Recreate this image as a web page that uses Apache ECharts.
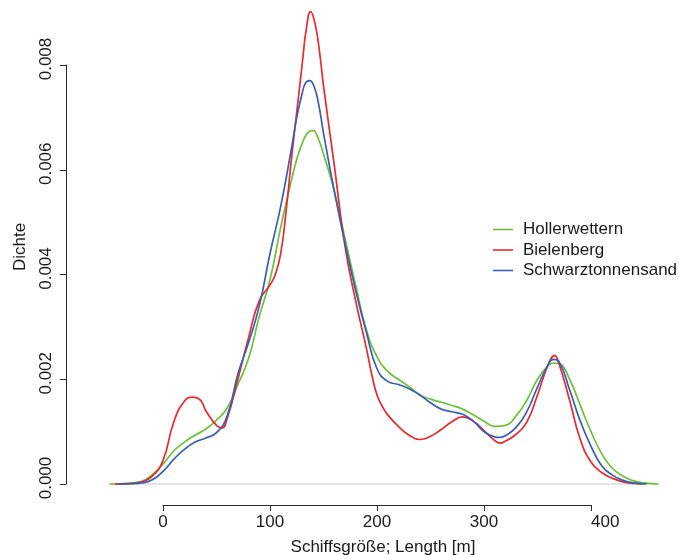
<!DOCTYPE html>
<html>
<head>
<meta charset="utf-8">
<script src="https://cdn.jsdelivr.net/npm/echarts@6/dist/echarts.min.js"></script>
<style>html,body{margin:0;padding:0;background:#fff}#c{width:679px;height:555px}</style>
</head>
<body>
<div id="c"></div>
<script>
// Density curves (x = ship length in m, y = density)
var seriesNames = ['Hollerwettern', 'Bielenberg', 'Schwarztonnensand'];
var xTicks = [0, 100, 200, 300, 400];
var yTicks = [0, 0.002, 0.004, 0.006, 0.008];

var xHoller = [-50,-40,-30,-20,-10,0,10,20,30,40,50,60,70,80,90,100,110,120,125,130,135,140,145,150,160,170,180,190,200,210,220,230,240,250,260,270,280,290,300,310,320,330,340,350,360,365,370,380,390,400,410,420,430,440,450,463];
var yHoller = [0,0.000005,0.00002,0.00005,0.00018,0.00038,0.00063,0.0008,0.00093,0.00105,0.00122,0.00145,0.0019,0.0024,0.0032,0.0039,0.0049,0.0058,0.0062,0.0065,0.0067,0.00675,0.0066,0.0063,0.0056,0.0047,0.0038,0.00295,0.00243,0.00215,0.002,0.00186,0.0017,0.00162,0.00156,0.0015,0.00143,0.00132,0.0012,0.0011,0.00112,0.0013,0.0016,0.002,0.00226,0.00231,0.0023,0.002,0.0015,0.001,0.00058,0.0003,0.00015,0.00006,0.00002,0];

var xBielen = [-45,-40,-30,-20,-10,0,10,20,28,35,40,50,55,60,70,80,90,100,105,110,115,120,125,130,134,138,142,146,150,160,170,180,190,195,200,205,210,220,230,240,250,260,270,280,290,300,310,315,320,330,340,350,360,366,370,380,390,400,410,420,430,440,448];
var yBielen = [0,0.000002,0.00001,0.00004,0.00015,0.00045,0.00118,0.00158,0.00166,0.0016,0.0014,0.00112,0.00107,0.00125,0.002,0.0028,0.0035,0.0038,0.004,0.0044,0.0052,0.0062,0.0071,0.008,0.0087,0.00902,0.0088,0.0083,0.0076,0.0061,0.00455,0.0035,0.0026,0.0021,0.0017,0.00148,0.00132,0.0011,0.00093,0.00085,0.00091,0.00104,0.00119,0.00128,0.0012,0.00102,0.00083,0.00078,0.00082,0.00095,0.00118,0.0017,0.00228,0.00245,0.0023,0.0016,0.00085,0.00042,0.00022,0.00011,0.00004,0.00001,0];

var xSchwarz = [-42,-30,-20,-10,0,10,20,30,40,50,60,70,80,90,100,110,120,125,130,133,137,141,145,150,160,170,180,190,200,210,220,230,240,250,260,270,280,290,300,310,315,320,330,340,350,360,365,370,380,390,400,410,420,430,440,452];
var ySchwarz = [0,0.000005,0.00002,0.00008,0.00024,0.00047,0.00066,0.0008,0.00088,0.00098,0.0013,0.0021,0.0027,0.0034,0.0044,0.0053,0.0064,0.007,0.00745,0.00765,0.0077,0.0076,0.0073,0.0067,0.0056,0.0046,0.0037,0.0029,0.0022,0.00196,0.0019,0.00182,0.0017,0.00155,0.00143,0.00138,0.00133,0.0012,0.001,0.0009,0.00089,0.00092,0.00108,0.00138,0.00185,0.00228,0.00238,0.00234,0.0018,0.0012,0.00072,0.00035,0.00017,0.00007,0.00002,0];

var colors = ['#6dbf3c', '#e8292f', '#3a5db3'];

function pairs(xs, ys) { return xs.map(function (x, i) { return [x, ys[i]]; }); }

var chart = echarts.init(document.getElementById('c'), null, { renderer: 'canvas' });
var pxPerUnitX = 1.07, x0px = 163;
var mainMinX = -60, mainMaxX = 480;
var pxPerUnitY = 52375, y0px = 484;
var mainMinY = -0.0002, mainMaxY = 0.0092;
var font = 'Liberation Sans, Arial, Helvetica, sans-serif';
var axisCol = '#2a2a2a';

function curve(i, xs, ys) {
  return { name: seriesNames[i], type: 'line', xAxisIndex: 0, yAxisIndex: 0, data: pairs(xs, ys),
    symbol: 'none', smooth: 0.5, lineStyle: { width: 1.7, color: colors[i] }, itemStyle: { color: colors[i] }, z: 2 + i };
}

var option = {
  animation: false,
  color: colors,
  grid: [
    { left: x0px + mainMinX * pxPerUnitX, width: (mainMaxX - mainMinX) * pxPerUnitX,
      top: y0px - mainMaxY * pxPerUnitY, height: (mainMaxY - mainMinY) * pxPerUnitY },
    { left: x0px, width: 400 * pxPerUnitX, top: 504, height: 1 },
    { left: 66, width: 1, top: y0px - 0.008 * pxPerUnitY, height: 0.008 * pxPerUnitY }
  ],
  xAxis: [
    { gridIndex: 0, type: 'value', min: mainMinX, max: mainMaxX, show: false },
    { gridIndex: 1, type: 'value', min: xTicks[0], max: xTicks[xTicks.length - 1], interval: 100,
      axisLine: { show: true, lineStyle: { color: axisCol, width: 1 } },
      axisTick: { show: true, length: 6, lineStyle: { color: axisCol } },
      splitLine: { show: false },
      axisLabel: { margin: 9, fontSize: 17, fontFamily: font, color: '#1a1a1a', alignMaxLabel: 'left',
        formatter: function (v) { return String(v); } } },
    { gridIndex: 2, type: 'value', show: false, min: 0, max: 1 }
  ],
  yAxis: [
    { gridIndex: 0, type: 'value', min: mainMinY, max: mainMaxY, show: false },
    { gridIndex: 1, type: 'value', show: false, min: 0, max: 1 },
    { gridIndex: 2, type: 'value', min: yTicks[0], max: yTicks[yTicks.length - 1], interval: 0.002,
      axisLine: { show: true, lineStyle: { color: axisCol, width: 1 } },
      axisTick: { show: true, length: 6, lineStyle: { color: axisCol } },
      splitLine: { show: false },
      axisLabel: { rotate: 90, margin: 11, fontSize: 17, fontFamily: font, color: '#1a1a1a',
        padding: [0, 0, 0, 12],
        formatter: function (v) { return v.toFixed(3); } } }
  ],
  legend: {
    orient: 'vertical', left: 488, top: 216,
    data: seriesNames,
    icon: 'rect', itemWidth: 20, itemHeight: 1.6, itemGap: 3.5,
    textStyle: { fontSize: 17, fontFamily: font, color: '#1a1a1a', lineHeight: 17, padding: [0, 0, 0, 5] }
  },
  graphic: [
    { type: 'text', style: { text: 'Schiffsgröße; Length [m]', x: 383, y: 547,
      textAlign: 'center', textVerticalAlign: 'middle', fontSize: 17, fontFamily: font, fill: '#1a1a1a' } },
    { type: 'text', x: 20, y: 247, rotation: Math.PI / 2,
      style: { text: 'Dichte', x: 0, y: 0, textAlign: 'center', textVerticalAlign: 'middle',
        fontSize: 17, fontFamily: font, fill: '#1a1a1a' } }
  ],
  series: [
    { name: 'zero', type: 'line', xAxisIndex: 0, yAxisIndex: 0, data: [[-50, 0], [463, 0]],
      symbol: 'none', lineStyle: { color: '#c9c9c9', width: 1 }, silent: true, z: 1 },
    curve(0, xHoller, yHoller),
    curve(1, xBielen, yBielen),
    curve(2, xSchwarz, ySchwarz)
  ]
};
chart.setOption(option);
</script>
</body>
</html>
